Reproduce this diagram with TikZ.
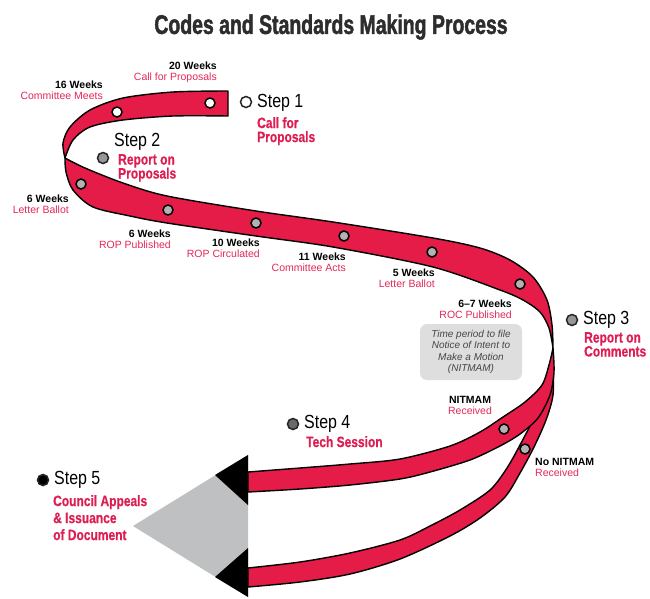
\documentclass[tikz,border=0pt]{standalone}
\usepackage{fontspec}
\setmainfont{Liberation Sans}
\newfontfamily\titlefont[FakeStretch=0.72,FakeBold=1.6]{Liberation Sans}
\newfontfamily\stepfont[FakeStretch=0.84]{Liberation Sans}
\newfontfamily\namefont[FakeStretch=0.8,FakeBold=0.6]{Liberation Sans}

\definecolor{ribbonred}{RGB}{230,28,72}
\definecolor{namered}{RGB}{222,30,82}
\definecolor{weekred}{RGB}{228,40,90}
\definecolor{titlegray}{RGB}{45,45,45}
\definecolor{boxgray}{RGB}{222,222,222}
\definecolor{textgray}{RGB}{70,70,70}
\definecolor{tipgray}{RGB}{190,192,194}
\definecolor{rivetgray}{RGB}{178,178,178}
\definecolor{stepgray}{RGB}{150,150,150}
\definecolor{stepdark}{RGB}{105,105,105}

\tikzset{
  ribbon/.style={fill=ribbonred, draw=black, line width=1.4pt, line join=round},
  rivet/.style={circle, draw=black, line width=1.5pt, inner sep=0pt, minimum size=10pt},
  stepdot/.style={circle, draw=black!85, line width=1.5pt, inner sep=0pt, minimum size=11pt},
  steptext/.style={anchor=west, inner sep=0pt, font=\stepfont\fontsize{19}{20}\selectfont},
  stepname/.style={anchor=north west, inner sep=0pt, align=left, text=namered,
    font=\namefont\bfseries\fontsize{15}{14}\selectfont},
  weeks/.style={anchor=east, inner sep=0pt, align=right, font=\fontsize{10.5}{11}\selectfont}
}

\begin{document}
\begin{tikzpicture}[x=1pt,y=-1pt]
\useasboundingbox (0,0) rectangle (650,598);
\fill[white] (0,0) rectangle (650,598);

\node[font=\titlefont\bfseries\fontsize{27}{28}\selectfont, text=titlegray] (title) at (331,27) {Codes and Standards Making Process};

% arrow head
\fill[tipgray] (133,526) -- (248,455) -- (248,597) -- cycle;
\fill (248,455) -- (215,475) -- (248,505) -- cycle;
\fill (248,548) -- (215,577) -- (248,597) -- cycle;

% ribbons
\filldraw[ribbon] plot[smooth] coordinates {(550,365) (545,395) (532,422) (520,445) (507,468) (490,490) (460,510) (430,526) (400,540) (350,553) (300,562) (248,568)}
  -- plot[smooth] coordinates {(248,587) (300,582) (350,574) (400,559) (450,536) (480,518) (505,497) (520,473) (534,447) (546,420) (553,395) (553,365)} -- cycle;
\filldraw[ribbon] plot[smooth] coordinates {(553,348) (549,365) (542,385) (525,402) (503,417) (480,432) (450,446) (400,459) (350,464) (300,468) (248,472)}
  -- plot[smooth] coordinates {(248,492) (300,489) (350,485) (400,479) (430,472) (470,460) (500,446) (520,434) (538,418) (550,395) (554,372) (553,348)} -- cycle;
\filldraw[ribbon] plot[smooth] coordinates {(65,158) (85,168) (123,183) (167,196) (256,211) (333,222) (433,238) (480,248) (510,260) (533,277) (547,300) (552,325) (553,348)}
  -- plot[smooth] coordinates {(553,348) (549,328) (540,312) (523,300) (500,290) (433,267) (333,247) (256,236) (167,223) (130,216) (93,207) (73,190) (66,172) (65,158)} -- cycle;
\filldraw[ribbon] plot[smooth] coordinates {(228,91) (173,92) (123,98) (90,110) (70,127) (63,143) (65,158)}
  -- plot[smooth] coordinates {(65,158) (73,140) (90,127) (123,120) (173,116) (228,116)} -- cycle;

\foreach \x/\y [count=\i] in {210/103,117/112}
  \node[rivet, fill=white] (top\i) at (\x,\y) {};
\foreach \x/\y [count=\i] in {81/184,168/210,256/223,344/236,432/252,520/284,504/429,525/449}
  \node[rivet, fill=rivetgray] (mid\i) at (\x,\y) {};

% steps
\foreach \n/\x/\y/\ty/\c in {1/246/102/103/white, 2/103/158/142/stepgray, 3/572/320/320/stepgray, 4/293/424/424/stepdark, 5/43/480/480/black}{
  \node[stepdot, fill=\c] (dot\n) at (\x,\y) {};
  \node[steptext] (step\n) at (\x+11,\ty) {Step \n};
}
\node[stepname] (name1) at (257,117) {Call for\\Proposals};
\node[stepname] (name2) at (118,154) {Report on\\Proposals};
\node[stepname] (name3) at (584,332) {Report on\\Comments};
\node[stepname] (name4) at (306,436) {Tech Session};
\node[stepname, font=\namefont\bfseries\fontsize{15}{17}\selectfont] (name5) at (53,495) {Council Appeals\\\& Issuance\\of Document};

\foreach \x/\y/\w/\t [count=\i] in {217/72.5/20 Weeks/Call for Proposals, 103/90/16 Weeks/Committee Meets, 69/204/6 Weeks/Letter Ballot, 171/239/6 Weeks/ROP Published, 260/248.5/10 Weeks/ROP Circulated, 346/262/11 Weeks/Committee Acts, 435/278.5/5 Weeks/Letter Ballot, 512/309/6–7 Weeks/ROC Published}
  \node[weeks] (wk\i) at (\x,\y) {\textbf{\w}\\\textcolor{weekred}{\t}};

\node[weeks, anchor=center, align=center] (recv) at (470,405) {\textbf{NITMAM}\\\textcolor{weekred}{Received}};
\node[weeks, anchor=west, align=left] (norecv) at (535,467) {\textbf{No NITMAM}\\\textcolor{weekred}{Received}};

\node[fill=boxgray, rounded corners=7pt, minimum width=102pt, minimum height=56pt, align=center,
  font=\itshape\fontsize{10}{11.5}\selectfont, text=textgray] (nitmambox) at (471,352) {Time period to file\\Notice of Intent to\\Make a Motion\\(NITMAM)};
\end{tikzpicture}
\end{document}
